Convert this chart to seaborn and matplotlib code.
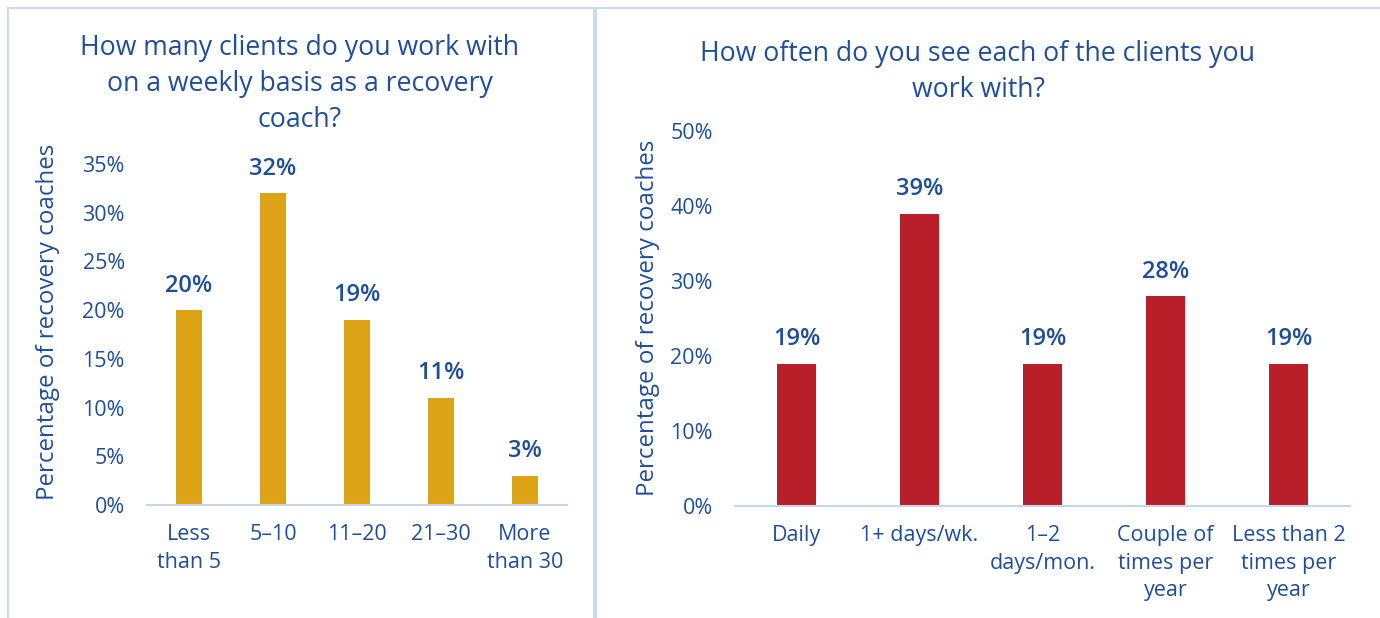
import matplotlib
matplotlib.use("Agg")
import matplotlib.pyplot as plt
import seaborn as sns
import pandas as pd
from matplotlib.patches import Rectangle
from matplotlib.ticker import FuncFormatter, MultipleLocator

# Survey results (percent of recovery coaches)
weekly_categories = ["Less\nthan 5", "5\u201310", "11\u201320", "21\u201330", "More\nthan 30"]
weekly_values = [20, 32, 19, 11, 3]

frequency_categories = ["Daily", "1+ days/wk.", "1\u20132\ndays/mon.",
                        "Couple of\ntimes per\nyear", "Less than 2\ntimes per\nyear"]
frequency_values = [19, 39, 19, 28, 19]

left_title = "How many clients do you work with\non a weekly basis as a recovery\ncoach?"
right_title = "How often do you see each of the clients you\nwork with?"
y_label = "Percentage of recovery coaches"

TEXT = "#1F4E9B"
GOLD = "#DCA316"
RED = "#B81F28"
AXIS_LINE = "#C6D6EC"
BORDER = "#CCDAF0"

sns.set_theme(style="white")
plt.rcParams["font.family"] = ["Open Sans", "DejaVu Sans"]

fig = plt.figure(figsize=(13.8, 6.18), dpi=100)

# panel frames
fig.add_artist(Rectangle((8 / 1380, -0.01), 586 / 1380, 1 - 8 / 618 + 0.01,
                         transform=fig.transFigure, fill=False,
                         edgecolor=BORDER, linewidth=1.5))
fig.add_artist(Rectangle((596 / 1380, -0.01), 790 / 1380, 1 - 8 / 618 + 0.01,
                         transform=fig.transFigure, fill=False,
                         edgecolor=BORDER, linewidth=1.5))

ax1 = fig.add_axes([147 / 1380, 1 - 505 / 618, 420 / 1380, 341 / 618])
ax2 = fig.add_axes([735 / 1380, 1 - 506 / 618, 615 / 1380, 375 / 618])


def draw(ax, cats, vals, color, ymax, step, width, label_xy):
    df = pd.DataFrame({"cat": cats, "val": vals})
    sns.barplot(data=df, x="cat", y="val", color=color, width=width,
                saturation=1, ax=ax, edgecolor="none")
    ax.set_xlim(-0.5, len(cats) - 0.5)
    ax.set_ylim(0, ymax)
    ax.yaxis.set_major_locator(MultipleLocator(step))
    ax.yaxis.set_major_formatter(FuncFormatter(lambda v, p: f"{v:.0f}%"))
    for s in ["top", "right", "left"]:
        ax.spines[s].set_visible(False)
    ax.spines["bottom"].set_color(AXIS_LINE)
    ax.spines["bottom"].set_linewidth(1.5)
    ax.tick_params(axis="both", length=0, labelsize=15.5, colors=TEXT)
    ax.tick_params(axis="y", pad=16)
    ax.tick_params(axis="x", pad=14)
    for lbl in ax.get_xticklabels():
        lbl.set_linespacing(1.4)
    ax.set_xlabel("")
    ax.set_ylabel(y_label, fontsize=17.4, color=TEXT, va="center")
    ax.yaxis.set_label_coords(*label_xy)
    for container in ax.containers:
        ax.bar_label(container, labels=[f"{v:.0f}%" for v in vals],
                     padding=9, fontsize=17, color=TEXT, fontweight="semibold")
    ax.grid(False)


draw(ax1, weekly_categories, weekly_values, GOLD, 35, 5, 0.31, (-0.236, 0.537))
draw(ax2, frequency_categories, frequency_values, RED, 50, 10, 0.32, (-0.141, 0.501))

fig.text(300 / 1380, 1 - 84 / 618, left_title, ha="center", va="center",
         fontsize=19.2, color=TEXT, linespacing=1.37)
fig.text(978 / 1380, 1 - 72 / 618, right_title, ha="center", va="center",
         fontsize=19.2, color=TEXT, linespacing=1.37)

fig.savefig("out.png", dpi=100)
